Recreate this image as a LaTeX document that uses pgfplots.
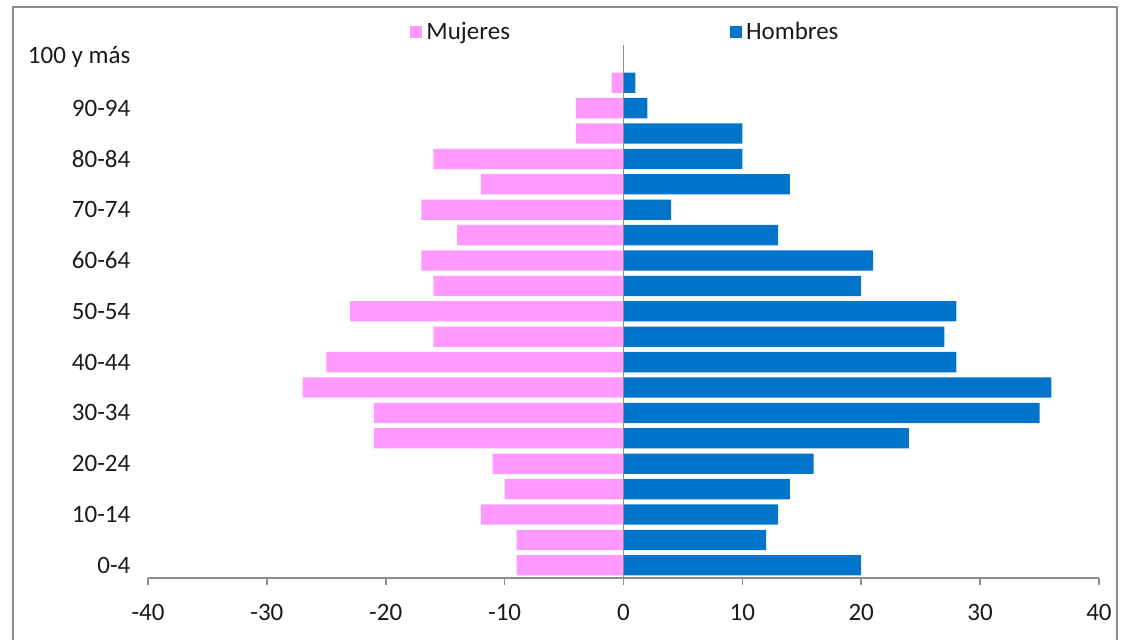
\documentclass[border=0pt]{standalone}
\usepackage{fontspec}
\setmainfont{Carlito}
\usepackage{pgfplots}
\pgfplotsset{compat=1.18}
\definecolor{mujer}{HTML}{FF99FF}
\definecolor{hombre}{HTML}{0274CA}
\definecolor{axgray}{HTML}{8C8C8C}
\definecolor{txt}{HTML}{1A1A1A}
\begin{document}
\begin{tikzpicture}
\useasboundingbox (0,0) rectangle (561.5pt,-319.5pt);
\draw[axgray, line width=1pt] (6.5pt,-340pt) -- (6.5pt,-3.5pt) -- (558.5pt,-3.5pt) -- (558.5pt,-340pt);
\begin{axis}[
  at={(74pt,-289pt)}, anchor=south west,
  scale only axis, width=475.5pt, height=266.7pt,
  xmin=-40, xmax=40, ymin=-0.5, ymax=20.5,
  xbar, bar width=0.8, bar shift=0pt,
  axis x line*=bottom, axis y line*=left,
  x axis line style={axgray, line width=0.8pt},
  y axis line style={draw=none},
  xtick={-40,-30,...,40},
  tick align=outside,
  x tick style={axgray, line width=0.8pt},
  major tick length=3.5pt,
  ytick={0,2,...,20},
  yticklabels={0-4,10-14,20-24,30-34,40-44,50-54,60-64,70-74,80-84,90-94,100 y más},
  y tick style={draw=none},
  /pgf/number format/assume math mode=true,
  tick label style={font=\fontsize{12.5}{15}\selectfont, text=txt},
  x tick label style={yshift=-6pt},
  y tick label style={xshift=-1.8pt},
  legend columns=2,
  legend style={at={(0.5,1)}, anchor=center, xshift=1.5pt, yshift=6.2pt,
    draw=none, fill=none, font=\fontsize{12.5}{15}\selectfont, text=txt,
    /tikz/every even column/.append style={column sep=108pt}},
  legend image code/.code={\fill[#1] (0pt,-3pt) rectangle (6pt,3pt);},
]
\addplot[fill=mujer, draw=none] coordinates {
(-9,0) (-9,1) (-12,2) (-10,3) (-11,4) (-21,5) (-21,6) (-27,7) (-25,8) (-16,9)
(-23,10) (-16,11) (-17,12) (-14,13) (-17,14) (-12,15) (-16,16) (-4,17) (-4,18) (-1,19) (0,20)};
\addlegendentry{Mujeres}
\addplot[fill=hombre, draw=none] coordinates {
(20,0) (12,1) (13,2) (14,3) (16,4) (24,5) (35,6) (36,7) (28,8) (27,9)
(28,10) (20,11) (21,12) (13,13) (4,14) (14,15) (10,16) (10,17) (2,18) (1,19) (0,20)};
\addlegendentry{Hombres}
\draw[axgray, line width=0.8pt] (axis cs:0,-0.5) -- (axis cs:0,20.5);
\end{axis}
\end{tikzpicture}
\end{document}
